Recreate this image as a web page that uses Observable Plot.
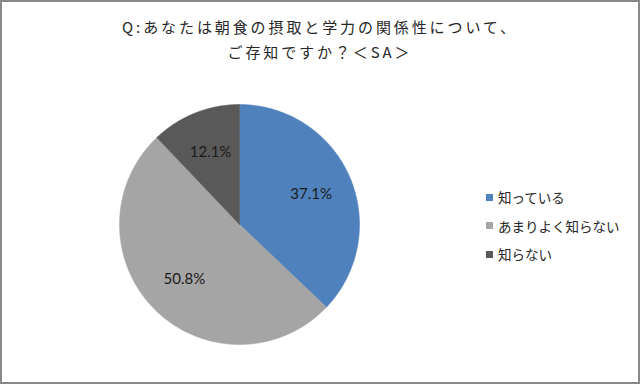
<!DOCTYPE html>
<html><head><meta charset="utf-8">
<script src="https://cdn.jsdelivr.net/npm/d3@7"></script>
<script src="https://cdn.jsdelivr.net/npm/@observablehq/plot@0.6"></script>
<style>
html,body{margin:0;padding:0;background:#fff;}
#chart{position:relative;width:640px;height:384px;box-sizing:border-box;border:2px solid #8a8a8a;overflow:hidden;font-family:"Noto Sans CJK JP",sans-serif;}
.t{position:absolute;left:0;width:636px;text-align:center;font-size:15px;letter-spacing:2.9px;color:#262626;white-space:nowrap;}
#legend{position:absolute;left:484px;top:181px;font-size:13.5px;color:#262626;}
.li{height:28.5px;display:flex;align-items:center;}
.sw{width:7px;height:7px;margin-right:5px;}
#plot{position:absolute;left:0;top:78px;}
</style></head>
<body>
<div id="chart">
  <div class="t" style="top:14px;">Q:あなたは朝食の摂取と学力の関係性について、</div>
  <div class="t" style="top:39px;">ご存知ですか？＜SA＞</div>
  <div id="plot"></div>
  <div id="legend"></div>
</div>
<script>
const categories = ["知っている", "あまりよく知らない", "知らない"];
const values = [37.1, 50.8, 12.1];
const colors = ["#4f81bd", "#a5a5a5", "#595959"];

const W = 636, H = 302, cx = 237, cy = 144, R = 120;
const total = d3.sum(values);
const slices = [];
let acc = 0;
categories.forEach((c, i) => {
  const a0 = acc / total * 2 * Math.PI;
  acc += values[i];
  const a1 = acc / total * 2 * Math.PI;
  slices.push({category: c, value: values[i], a0, a1});
});
// slice outlines (center + arc sampled)
const pts = [];
for (const s of slices) {
  pts.push({category: s.category, x: 0, y: 0});
  const n = Math.max(2, Math.ceil((s.a1 - s.a0) / (Math.PI / 360)));
  for (let k = 0; k <= n; k++) {
    const a = s.a0 + (s.a1 - s.a0) * k / n;
    pts.push({category: s.category, x: Math.sin(a), y: Math.cos(a)});
  }
  pts.push({category: s.category, x: 0, y: 0});
}
const labels = slices.map(s => {
  const m = (s.a0 + s.a1) / 2;
  return {category: s.category, label: s.value.toFixed(1) + "%", x: 0.65 * Math.sin(m), y: 0.65 * Math.cos(m)};
});

const chart = Plot.plot({
  width: W, height: H,
  margin: 0,
  x: {domain: [-1, 1], range: [cx - R, cx + R], axis: null},
  y: {domain: [-1, 1], range: [cy + R, cy - R], axis: null},
  color: {domain: categories, range: colors},
  style: {background: "transparent", overflow: "visible"},
  marks: [
    Plot.line(pts, {x: "x", y: "y", z: "category", fill: "category", stroke: "category", strokeWidth: 0.5, curve: "linear"}),
    Plot.text(labels, {x: "x", y: "y", text: "label", fill: "#1a1a1a", fontSize: 15, fontFamily: "Lato, 'Open Sans', sans-serif"})
  ]
});
document.getElementById("plot").appendChild(chart);

const lg = document.getElementById("legend");
categories.forEach((c, i) => {
  const d = document.createElement("div");
  d.className = "li";
  d.innerHTML = `<span class="sw" style="background:${colors[i]}"></span><span>${c}</span>`;
  lg.appendChild(d);
});
</script>
</body></html>
